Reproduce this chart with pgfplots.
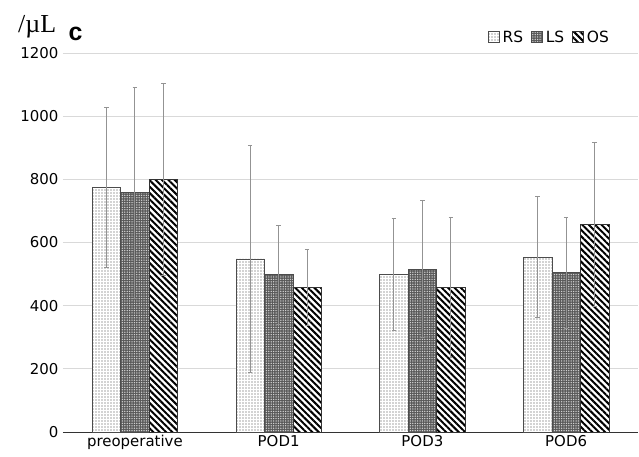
\documentclass[border=0pt]{standalone}
\usepackage{pgfplots}
\pgfplotsset{compat=1.18}
\usepackage{pgfplotstable}
\usepackage{fontspec}
\setmainfont{DejaVu Sans}
\newfontfamily\seriffont{Liberation Serif}
\newfontfamily\arialfont{Liberation Sans}
\usetikzlibrary{patterns.meta}
\pgfplotstableread{
x y e
0 775 253
1 548 360
2 498 178
3 553 192
}\RS
\pgfplotstableread{
x y e
0 758 334
1 498 157
2 515 217
3 504 175
}\LS
\pgfplotstableread{
x y e
0 800 304
1 457 120
2 457 222
3 658 260
}\OS
\begin{document}
\begin{tikzpicture}
\begin{axis}[
  scale only axis, width=575bp, height=379bp,
  xmin=-0.5, xmax=3.5, ymin=0, ymax=1200,
  ytick={0,200,...,1200},
  xtick={0,1,2,3}, xticklabels={preoperative,POD1,POD3,POD6},
  ybar=0pt, bar width=28.5bp,
  axis x line*=bottom, axis y line*=left,
  y axis line style={draw=none},
  x axis line style={black!80, line width=0.9pt, -},
  major tick length=0pt,
  ymajorgrids, grid style={gray!30, line width=0.7pt},
  ticklabel style={font=\fontsize{15}{18}\selectfont, text=black},
  yticklabel style={xshift=-1bp},
  /pgf/number format/assume math mode=true,
  /pgf/number format/1000 sep={},
  clip=false,
  legend style={at={(0.955,1.042)}, anchor=east, draw=none, fill=none,
    font=\fontsize{15.5}{18}\selectfont, inner sep=0pt,
    /tikz/every even column/.append style={column sep=5bp},
    nodes={inner xsep=3bp}},
  legend columns=-1,
  legend image code/.code={\draw[#1] (0bp,-5.5bp) rectangle (11bp,5.5bp);},
  error bars/error bar style={gray!85, line width=1bp},
  error bars/error mark options={rotate=90, mark size=2.2pt, gray!85, line width=1bp},
]
\addplot[draw=black!70, line width=0.7pt, fill=white,
  postaction={pattern={Dots[distance=3bp,radius=0.85bp]}, pattern color=gray!70},
  error bars/.cd, y dir=both, y explicit]
  table[x=x,y=y,y error=e]{\RS};
\addplot[draw=black!70, line width=0.7pt, fill=black!65,
  postaction={pattern={Dots[distance=2.4bp,radius=0.75bp]}, pattern color=gray!35},
  error bars/.cd, y dir=both, y explicit]
  table[x=x,y=y,y error=e]{\LS};
\addplot[draw=black!80, line width=0.7pt, fill=white,
  postaction={pattern={Lines[angle=-45,distance=4.5bp,line width=2bp]}, pattern color=black},
  error bars/.cd, y dir=both, y explicit]
  table[x=x,y=y,y error=e]{\OS};
\legend{RS,LS,OS}
\node[font=\seriffont\fontsize{26}{28}\selectfont] at (axis description cs:-0.045,1.07) {/\textmu L};
\node[font=\arialfont\bfseries\fontsize{25}{27}\selectfont] at (axis description cs:0.0217,1.05) {c};
\coordinate (bl) at (rel axis cs:0,0);
\end{axis}
\pgfresetboundingbox
\path[use as bounding box] ([shift={(-63bp,-25bp)}]bl) rectangle ([shift={(576bp,432bp)}]bl);
\end{tikzpicture}
\end{document}
